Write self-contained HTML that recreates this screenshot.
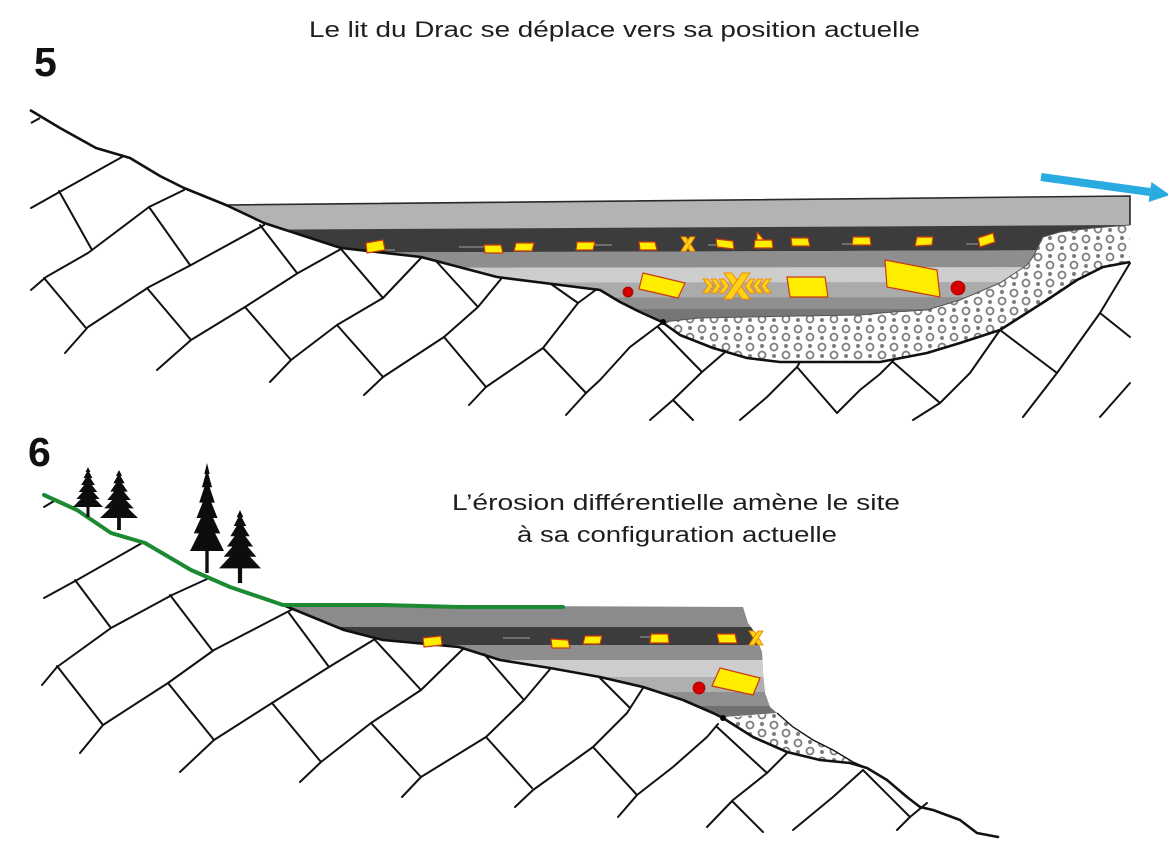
<!DOCTYPE html>
<html>
<head>
<meta charset="utf-8">
<style>
html,body{margin:0;padding:0;background:#fff;}
svg{display:block;}
text{font-family:"Liberation Sans",sans-serif;fill:#1e1e1e;}
</style>
</head>
<body>
<svg width="1168" height="861" viewBox="0 0 1168 861" xmlns="http://www.w3.org/2000/svg">
<defs>
  <pattern id="cong" patternUnits="userSpaceOnUse" width="24" height="18">
    <rect width="24" height="18" fill="#fff"/>
    <circle cx="6" cy="5" r="3.5" fill="none" stroke="#7e7e7e" stroke-width="1.8"/>
    <circle cx="18" cy="4" r="2.1" fill="#7e7e7e"/>
    <circle cx="18" cy="13" r="3.5" fill="none" stroke="#7e7e7e" stroke-width="1.8"/>
    <circle cx="6" cy="14" r="2" fill="#7e7e7e"/>
  </pattern>
  <clipPath id="topSed">
    <path d="M226,205 L1130,196 L1130,225 L1093,228 L1060,232 L1043,237 L1033,257 L1027,265 L1000,283 L960,300 L927,310 L893,312 L860,315 L800,316 L700,318 L662,322 L640,312 L620,302 L600,290 L497,277 L459,267 L421,257 L341,248 L264,223 Z"/>
  </clipPath>
  <clipPath id="botSed">
    <path d="M283,605 L743,607 L748,623 L753,630 L762,652 L763,673 L765,693 L770,707 L777,713 L723,717 L713,713 L683,700 L643,687 L600,677 L550,668 L500,660 L459,647 L383,640 L344,630 Z"/>
  </clipPath>
</defs>

<!-- ===== Texts ===== -->
<text x="309" y="37" font-size="22" textLength="611" lengthAdjust="spacingAndGlyphs">Le lit du Drac se déplace vers sa position actuelle</text>
<text x="34" y="76" font-size="41" font-weight="bold" style="fill:#111">5</text>
<text x="28" y="466" font-size="41" font-weight="bold" style="fill:#111">6</text>
<text x="452" y="510" font-size="22" textLength="448" lengthAdjust="spacingAndGlyphs">L’érosion différentielle amène le site</text>
<text x="517" y="542" font-size="22" textLength="320" lengthAdjust="spacingAndGlyphs">à sa configuration actuelle</text>

<!-- ===== TOP PANEL ===== -->
<g clip-path="url(#topSed)">
  <rect x="200" y="180" width="960" height="160" fill="#b3b3b3"/>
  <polygon points="200,230 1140,225 1140,250 200,253" fill="#3c3c3c"/>
  <polygon points="200,253 1140,250 1140,267 200,268" fill="#8e8e8e"/>
  <polygon points="200,268 1140,267 1140,282 200,283" fill="#cdcdcd"/>
  <polygon points="200,283 1140,282 1140,297 200,298" fill="#ababab"/>
  <polygon points="200,298 1140,297 1140,309 200,309" fill="#8f8f8f"/>
  <polygon points="200,309 1140,309 1140,340 200,340" fill="#767676"/>
  <g stroke="#a0a0a0" stroke-width="1">
    <line x1="385" y1="250" x2="395" y2="250"/>
    <line x1="459" y1="247" x2="484" y2="247"/>
    <line x1="595" y1="245" x2="612" y2="245"/>
    <line x1="708" y1="245" x2="716" y2="245"/>
    <line x1="842" y1="244" x2="852" y2="244"/>
    <line x1="966" y1="244" x2="978" y2="244"/>
  </g>
</g>
<polyline points="226,205 1130,196 1130,225" fill="none" stroke="#2a2a2a" stroke-width="1.6"/>

<path d="M662,322 L700,318 L800,316 L860,315 L893,312 L927,310 L960,300 L1000,283 L1027,265 L1033,257 L1043,237 L1060,232 L1093,228 L1130,225 L1130,262 L1103,267 L1077,280 L1047,300 L1000,330 L960,343 L927,353 L893,360 L860,362 L780,362 L747,358 L713,348 L680,335 Z" fill="url(#cong)"/>
<path d="M662,322 L700,318 L800,316 L860,315 L893,312 L927,310 L960,300 L1000,283 L1027,265 L1033,257 L1043,237 L1060,232 L1093,228 L1130,225" fill="none" stroke="#555" stroke-width="1"/>

<polyline points="31,123 40,118" fill="none" stroke="#111" stroke-width="2"/>
<polyline points="30,110 60,128 96,148 130,158 160,176 184,188 226,205 264,223 341,248 421,257 459,267 497,277 600,290 620,302 640,312 662,322 680,335 713,348 747,358 780,362 880,362 927,353 960,343 1000,330 1047,300 1077,280 1103,267 1130,262" fill="none" stroke="#111" stroke-width="2.6" stroke-linejoin="round"/>
<circle cx="663" cy="322" r="3" fill="#000"/>

<g fill="none" stroke="#111" stroke-width="2" stroke-linejoin="round" stroke-linecap="round">
  <polyline points="31,208 63,190 122,157"/>
  <polyline points="31,290 46,277 88,253 149,207 184,190"/>
  <polyline points="65,353 88,327 149,287 191,265 264,225"/>
  <polyline points="157,370 191,340 245,307 298,273 341,249"/>
  <polyline points="270,382 291,360 337,325 383,298 421,258"/>
  <polyline points="364,395 383,377 444,337 478,307 501,279"/>
  <polyline points="469,405 486,387 543,348 578,303 597,289"/>
  <polyline points="566,415 586,393 600,380 630,347 662,323"/>
  <polyline points="650,420 673,400 702,372 724,353"/>
  <polyline points="740,420 767,397 797,367 800,362"/>
  <polyline points="837,413 860,390 880,374 893,361"/>
  <polyline points="913,420 940,403 970,373 993,340 1000,330"/>
  <polyline points="1023,417 1057,373 1100,313 1130,263"/>
  <polyline points="1100,417 1130,383"/>
  <line x1="59" y1="191" x2="92" y2="250"/>
  <line x1="149" y1="207" x2="190" y2="265"/>
  <line x1="44" y1="278" x2="86" y2="328"/>
  <line x1="260" y1="225" x2="297" y2="273"/>
  <line x1="147" y1="288" x2="191" y2="340"/>
  <line x1="341" y1="249" x2="383" y2="298"/>
  <line x1="245" y1="307" x2="291" y2="360"/>
  <line x1="436" y1="261" x2="478" y2="307"/>
  <line x1="337" y1="325" x2="383" y2="377"/>
  <line x1="551" y1="284" x2="578" y2="303"/>
  <line x1="444" y1="337" x2="486" y2="387"/>
  <line x1="543" y1="348" x2="586" y2="393"/>
  <line x1="658" y1="327" x2="702" y2="372"/>
  <line x1="673" y1="400" x2="693" y2="420"/>
  <line x1="797" y1="367" x2="837" y2="413"/>
  <line x1="893" y1="362" x2="940" y2="403"/>
  <line x1="1000" y1="330" x2="1057" y2="373"/>
  <line x1="1100" y1="313" x2="1130" y2="337"/>
</g>

<g fill="#ffee00" stroke="#cc3a10" stroke-width="1.2" stroke-linejoin="round">
  <polygon points="366,243 383,240 385,250 367,253"/>
  <polygon points="484,245 501,245 503,253 485,253"/>
  <polygon points="516,243 534,243 532,251 514,251"/>
  <polygon points="577,242 595,242 593,250 576,250"/>
  <polygon points="639,242 655,242 657,250 640,250"/>
  <polygon points="716,239 733,241 734,249 717,247"/>
  <polygon points="755,240 772,240 773,248 754,248"/>
  <polygon points="757,232 764,240 757,240"/>
  <polygon points="791,238 808,238 810,246 792,246"/>
  <polygon points="853,237 870,237 871,245 852,245"/>
  <polygon points="917,237 933,237 932,245 915,246"/>
  <polygon points="978,238 993,233 995,242 980,247"/>
  <polygon points="643,273 685,283 678,298 639,289"/>
  <polygon points="787,277 825,277 828,297 790,297"/>
  <polygon points="885,260 937,270 940,297 887,287"/>
</g>
<g fill="#ffd21a" stroke="#f08a00" stroke-width="1" stroke-linejoin="round">
  <polygon points="681,237 686,237 695,251 690,251"/>
  <polygon points="690,237 695,237 686,251 681,251"/>
  <polygon points="703,279 708,279 713,286 708,293 703,293 708,286"/>
  <polygon points="711,279 716,279 721,286 716,293 711,293 716,286"/>
  <polygon points="719,279 724,279 729,286 724,293 719,293 724,286"/>
  <polygon points="771,279 766,279 761,286 766,293 771,293 766,286"/>
  <polygon points="763,279 758,279 753,286 758,293 763,293 758,286"/>
  <polygon points="755,279 750,279 745,286 750,293 755,293 750,286"/>
  <polygon points="724,273 732,273 750,299 742,299"/>
  <polygon points="742,273 750,273 732,299 724,299"/>
</g>
<circle cx="628" cy="292" r="5" fill="#d40000" stroke="#a00" stroke-width="0.8"/>
<circle cx="958" cy="288" r="7" fill="#d40000" stroke="#a00" stroke-width="0.8"/>

<line x1="1041" y1="177" x2="1150" y2="192" stroke="#29abe2" stroke-width="8"/>
<polygon points="1148.6,202 1151.4,182 1170,195" fill="#29abe2"/>

<!-- ===== BOTTOM PANEL ===== -->
<g clip-path="url(#botSed)">
  <rect x="270" y="600" width="520" height="130" fill="#8b8b8b"/>
  <rect x="270" y="627" width="520" height="18" fill="#3c3c3c"/>
  <rect x="270" y="645" width="520" height="15" fill="#8e8e8e"/>
  <rect x="270" y="660" width="520" height="17" fill="#cdcdcd"/>
  <rect x="270" y="677" width="520" height="15" fill="#afafaf"/>
  <rect x="270" y="692" width="520" height="14" fill="#8f8f8f"/>
  <rect x="270" y="706" width="520" height="20" fill="#707070"/>
  <g stroke="#a0a0a0" stroke-width="1">
    <line x1="503" y1="638" x2="530" y2="638"/>
    <line x1="640" y1="637" x2="650" y2="637"/>
  </g>
</g>

<path d="M723,718 L777,713 L793,727 L813,740 L833,750 L853,762 L867,768 L850,763 L820,760 L787,752 L753,737 Z" fill="url(#cong)"/>
<polyline points="777,713 793,727 813,740 833,750 853,762 867,768" fill="none" stroke="#111" stroke-width="1.4"/>

<polyline points="44,495 77,510 111,533 145,543 191,570 230,587 283,605 344,630 383,640 459,647 500,660 550,668 600,677 643,687 683,700 713,713 723,718 753,737 787,752 820,760 850,763 867,768 887,780 907,797 920,807 933,810 960,820 977,833 998,837" fill="none" stroke="#111" stroke-width="2.6" stroke-linejoin="round" stroke-linecap="round"/>
<circle cx="723" cy="718" r="3" fill="#000"/>

<g fill="none" stroke="#111" stroke-width="2" stroke-linejoin="round" stroke-linecap="round">
  <polyline points="44,507 54,501"/>
  <polyline points="44,598 77,580 142,543"/>
  <polyline points="42,685 57,667 111,628 172,595 207,579"/>
  <polyline points="80,753 103,725 168,683 214,650 291,610"/>
  <polyline points="180,772 214,740 272,703 329,667 375,639"/>
  <polyline points="300,782 321,762 371,723 421,690 463,649"/>
  <polyline points="402,797 421,777 486,737 524,700 551,668"/>
  <polyline points="515,807 533,790 593,747 627,713 643,688"/>
  <polyline points="618,817 637,795 673,767 707,737 718,724"/>
  <polyline points="707,827 733,800 767,773 787,753"/>
  <polyline points="793,830 833,797 863,770"/>
  <polyline points="897,830 910,817 927,803"/>
  <line x1="75" y1="580" x2="111" y2="628"/>
  <line x1="170" y1="595" x2="212" y2="650"/>
  <line x1="57" y1="666" x2="103" y2="725"/>
  <line x1="289" y1="613" x2="329" y2="667"/>
  <line x1="168" y1="683" x2="214" y2="740"/>
  <line x1="375" y1="640" x2="421" y2="690"/>
  <line x1="272" y1="703" x2="321" y2="762"/>
  <line x1="484" y1="654" x2="524" y2="700"/>
  <line x1="371" y1="723" x2="421" y2="777"/>
  <line x1="486" y1="737" x2="532" y2="788"/>
  <line x1="600" y1="678" x2="630" y2="708"/>
  <line x1="593" y1="747" x2="637" y2="795"/>
  <line x1="717" y1="727" x2="767" y2="773"/>
  <line x1="733" y1="802" x2="763" y2="832"/>
  <line x1="863" y1="770" x2="910" y2="817"/>
</g>

<polyline points="44,495 77,510 111,533 145,543 191,570 230,587 283,605 383,605 459,607 563,607" fill="none" stroke="#1b8a32" stroke-width="4" stroke-linejoin="round" stroke-linecap="round"/>

<g fill="#0d0d0d">
  <polygon transform="translate(88,467) scale(30,50)" points="0,0 0.08,0.1 0.04,0.1 0.15,0.22 0.08,0.22 0.23,0.36 0.13,0.36 0.31,0.5 0.18,0.5 0.39,0.64 0.24,0.64 0.5,0.8 0.05,0.8 0.05,1 -0.05,1 -0.05,0.8 -0.5,0.8 -0.24,0.64 -0.39,0.64 -0.18,0.5 -0.31,0.5 -0.13,0.36 -0.23,0.36 -0.08,0.22 -0.15,0.22 -0.04,0.1 -0.08,0.1"/>
  <polygon transform="translate(119,470) scale(38,60)" points="0,0 0.08,0.1 0.04,0.1 0.15,0.22 0.08,0.22 0.23,0.36 0.13,0.36 0.31,0.5 0.18,0.5 0.39,0.64 0.24,0.64 0.5,0.8 0.05,0.8 0.05,1 -0.05,1 -0.05,0.8 -0.5,0.8 -0.24,0.64 -0.39,0.64 -0.18,0.5 -0.31,0.5 -0.13,0.36 -0.23,0.36 -0.08,0.22 -0.15,0.22 -0.04,0.1 -0.08,0.1"/>
  <polygon transform="translate(207,463) scale(34,110)" points="0,0 0.08,0.1 0.04,0.1 0.15,0.22 0.08,0.22 0.23,0.36 0.13,0.36 0.31,0.5 0.18,0.5 0.39,0.64 0.24,0.64 0.5,0.8 0.05,0.8 0.05,1 -0.05,1 -0.05,0.8 -0.5,0.8 -0.24,0.64 -0.39,0.64 -0.18,0.5 -0.31,0.5 -0.13,0.36 -0.23,0.36 -0.08,0.22 -0.15,0.22 -0.04,0.1 -0.08,0.1"/>
  <polygon transform="translate(240,510) scale(42,73)" points="0,0 0.08,0.1 0.04,0.1 0.15,0.22 0.08,0.22 0.23,0.36 0.13,0.36 0.31,0.5 0.18,0.5 0.39,0.64 0.24,0.64 0.5,0.8 0.05,0.8 0.05,1 -0.05,1 -0.05,0.8 -0.5,0.8 -0.24,0.64 -0.39,0.64 -0.18,0.5 -0.31,0.5 -0.13,0.36 -0.23,0.36 -0.08,0.22 -0.15,0.22 -0.04,0.1 -0.08,0.1"/>
</g>

<g fill="#ffee00" stroke="#cc3a10" stroke-width="1.2" stroke-linejoin="round">
  <polygon points="423,638 441,636 442,645 424,647"/>
  <polygon points="551,639 568,640 570,648 552,648"/>
  <polygon points="585,636 602,636 600,644 583,644"/>
  <polygon points="651,634 668,634 669,643 650,643"/>
  <polygon points="717,634 735,634 737,643 719,643"/>
  <polygon points="720,668 760,678 753,695 712,686"/>
</g>
<g fill="#ffd21a" stroke="#f08a00" stroke-width="1" stroke-linejoin="round">
  <polygon points="749,631 754,631 763,645 758,645"/>
  <polygon points="758,631 763,631 754,645 749,645"/>
</g>
<circle cx="699" cy="688" r="6" fill="#d40000" stroke="#a00" stroke-width="0.8"/>

</svg>
</body>
</html>
